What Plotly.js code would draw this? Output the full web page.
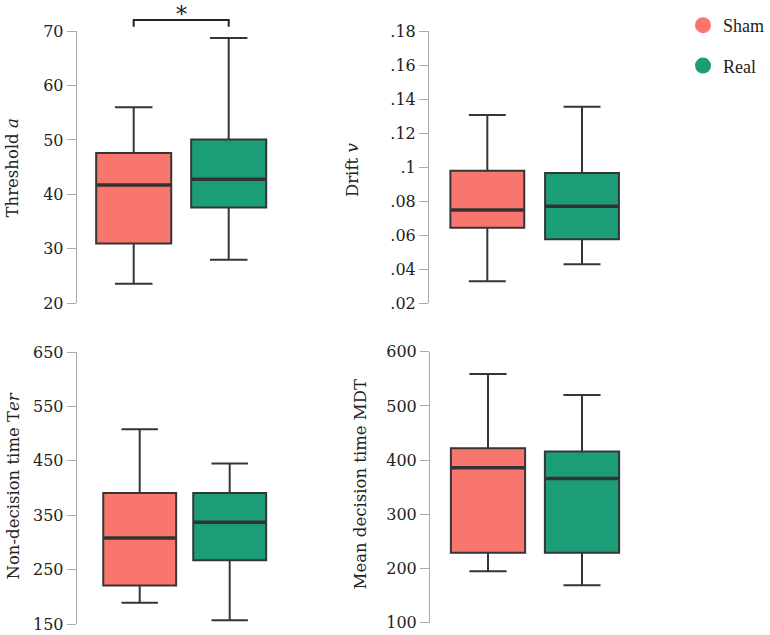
<!DOCTYPE html>
<html>
<head>
<meta charset="utf-8">
<script src="https://cdn.plot.ly/plotly-3.0.1.min.js"></script>
<style>html,body{margin:0;padding:0;background:#fff;}#chart{width:770px;height:635px;}</style>
</head>
<body>
<div id="chart"></div>
<script>
// Groups
const groups = ['Sham', 'Real'];
const groupPos = [0, 1];
const groupColors = ['#F8766D', '#1B9E77'];

// Box statistics: [lower whisker, Q1, median, Q3, upper whisker]
const thresholdSham = [23.6, 31.0, 41.7, 47.6, 56.0];
const thresholdReal = [28.0, 37.6, 42.8, 50.1, 68.7];
const driftSham = [0.033, 0.0644, 0.0748, 0.0979, 0.1306];
const driftReal = [0.0429, 0.0576, 0.077, 0.0966, 0.1355];
const terSham = [189, 221, 308, 391, 508];
const terReal = [157, 267, 337, 391, 445];
const mdtSham = [195, 229, 386, 422, 559];
const mdtReal = [169, 229, 366, 416, 520];

// Tick labels
const thresholdTicks = [20, 30, 40, 50, 60, 70];
const driftTicks = [0.02, 0.04, 0.06, 0.08, 0.10, 0.12, 0.14, 0.16, 0.18];
const driftTickText = ['.02', '.04', '.06', '.08', '.1', '.12', '.14', '.16', '.18'];
const terTicks = [150, 250, 350, 450, 550, 650];
const mdtTicks = [100, 200, 300, 400, 500, 600];

// Axis titles
const titles = ['Threshold <i>a</i>', 'Drift <i>v</i>', 'Non-decision time T<i>er</i>', 'Mean decision time MDT'];
const significance = '*';

const W = 770, H = 635;
const FONT = 'DejaVu Serif, Liberation Serif, serif';
const LFONT = 'Liberation Serif, DejaVu Serif, serif';

function boxTrace(stats, gi, xa, ya, w) {
  return {
    type: 'box',
    x: [groupPos[gi]],
    lowerfence: [stats[0]], q1: [stats[1]], median: [stats[2]], q3: [stats[3]], upperfence: [stats[4]],
    width: w,
    fillcolor: groupColors[gi],
    line: {color: '#353535', width: 2},
    boxpoints: false,
    hoverinfo: 'skip',
    showlegend: false,
    name: groups[gi],
    xaxis: xa, yaxis: ya
  };
}
function medianTrace(stats, gi, xa, ya, w) {
  return {
    type: 'scatter', mode: 'lines',
    x: [groupPos[gi] - w / 2 + 0.01, groupPos[gi] + w / 2 - 0.01],
    y: [stats[2], stats[2]],
    line: {color: '#333333', width: 3.5},
    hoverinfo: 'skip', showlegend: false,
    xaxis: xa, yaxis: ya
  };
}

const panels = [
  {sh: thresholdSham, re: thresholdReal, xa: 'x', ya: 'y', w: 0.79},
  {sh: driftSham, re: driftReal, xa: 'x2', ya: 'y2', w: 0.78},
  {sh: terSham, re: terReal, xa: 'x3', ya: 'y3', w: 0.81},
  {sh: mdtSham, re: mdtReal, xa: 'x4', ya: 'y4', w: 0.79}
];

const data = [];
panels.forEach(p => {
  data.push(boxTrace(p.sh, 0, p.xa, p.ya, p.w));
  data.push(boxTrace(p.re, 1, p.xa, p.ya, p.w));
  data.push(medianTrace(p.sh, 0, p.xa, p.ya, p.w));
  data.push(medianTrace(p.re, 1, p.xa, p.ya, p.w));
});
// legend entries
groups.forEach((g, i) => {
  data.push({type: 'scatter', mode: 'markers', x: [null], y: [null], name: g,
    legendgroup: g, marker: {color: groupColors[i], size: 17}, xaxis: 'x2', yaxis: 'y2', hoverinfo: 'skip'});
});

function xd(l, r) { return [l / W, r / W]; }
function yd(t, b) { return [1 - b / H, 1 - t / H]; }

function xAxis(dom, rng) {
  return {domain: dom, range: rng, visible: false, fixedrange: true};
}
function yAxis(dom, rng, tv, tt) {
  return {
    domain: dom, range: rng, tickvals: tv, ticktext: tt,
    showline: true, linecolor: '#aaaaaa', linewidth: 1,
    ticks: 'outside', ticklen: 9, tickcolor: '#aaaaaa', tickwidth: 1,
    showgrid: false, zeroline: false,
    tickfont: {family: FONT, size: 16, color: '#222'},
    fixedrange: true
  };
}
function titleAnn(text, cx, cy) {
  return {xref: 'paper', yref: 'paper', x: cx / W, y: 1 - cy / H, xanchor: 'center', yanchor: 'middle',
    textangle: -90, text: text, showarrow: false, font: {family: FONT, size: 16.5, color: '#222'}};
}

const layout = {
  width: W, height: H,
  margin: {l: 0, r: 0, t: 0, b: 0},
  paper_bgcolor: '#fff', plot_bgcolor: '#fff',
  showlegend: true,
  legend: {x: 1, y: 1 - 7 / H, xanchor: 'right', yanchor: 'top', traceorder: 'grouped', tracegroupgap: 14,
    font: {family: LFONT, size: 18, color: '#222'}, bgcolor: 'rgba(0,0,0,0)'},
  xaxis: xAxis(xd(76.7, 285.7), [-0.6, 1.6]),
  xaxis2: xAxis(xd(429, 637.3), [-0.616, 1.584]),
  xaxis3: xAxis(xd(76.7, 274.7), [-0.7, 1.5]),
  xaxis4: xAxis(xd(430, 636.8), [-0.617, 1.583]),
  yaxis: Object.assign(yAxis(yd(31, 303.3), [20, 70], thresholdTicks, thresholdTicks.map(String)), {anchor: 'x'}),
  yaxis2: Object.assign(yAxis(yd(31, 303.3), [0.02, 0.18], driftTicks, driftTickText), {anchor: 'x2'}),
  yaxis3: Object.assign(yAxis(yd(352, 624), [150, 650], terTicks, terTicks.map(String)), {anchor: 'x3'}),
  yaxis4: Object.assign(yAxis(yd(351.7, 622.7), [100, 600], mdtTicks, mdtTicks.map(String)), {anchor: 'x4'}),
  shapes: [
    {type: 'path', xref: 'x', yref: 'paper',
     path: 'M ' + groupPos[0] + ',' + (1 - 26.7 / H) + ' L ' + groupPos[0] + ',' + (1 - 20 / H) +
           ' L ' + groupPos[1] + ',' + (1 - 20 / H) + ' L ' + groupPos[1] + ',' + (1 - 26.7 / H),
     line: {color: '#222', width: 2}}
  ],
  annotations: [
    {xref: 'x', yref: 'paper', x: (groupPos[0] + groupPos[1]) / 2, y: 1, yanchor: 'top', text: significance, showarrow: false,
     font: {family: FONT, size: 22, color: '#222'}},
    titleAnn(titles[0], 11.5, 168),
    titleAnn(titles[1], 353, 170),
    titleAnn(titles[2], 12.5, 486),
    titleAnn(titles[3], 359.5, 485)
  ]
};

Plotly.newPlot('chart', data, layout, {displayModeBar: false, staticPlot: true});
</script>
</body>
</html>
